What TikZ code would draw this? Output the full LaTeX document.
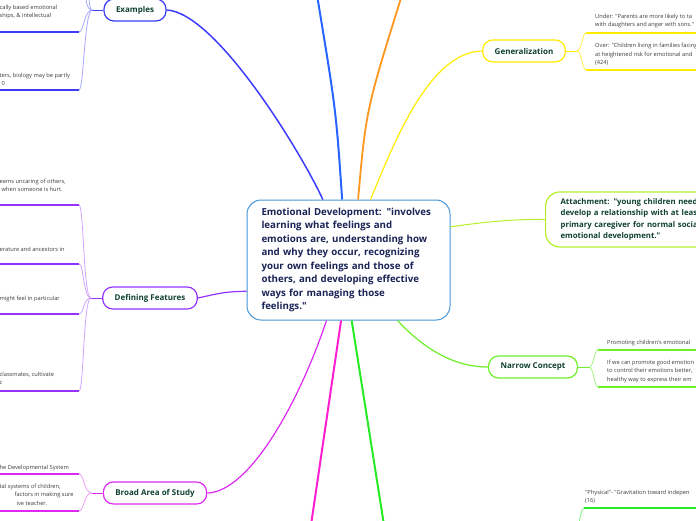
\documentclass[tikz,border=0pt]{standalone}
\usepackage{fontspec}
\setmainfont{Open Sans}[Ligatures=TeXOff]
\usepackage{tikz}
\usetikzlibrary{positioning}
\definecolor{exblue}{RGB}{60,60,250}
\definecolor{topblue}{RGB}{40,100,255}
\definecolor{orangeline}{RGB}{255,150,30}
\definecolor{genyellow}{RGB}{255,235,0}
\definecolor{attgreen}{RGB}{180,240,40}
\definecolor{narrgreen}{RGB}{110,240,40}
\definecolor{downgreen}{RGB}{40,235,40}
\definecolor{downmag}{RGB}{255,30,210}
\definecolor{broadmag}{RGB}{220,40,240}
\definecolor{defviolet}{RGB}{150,50,255}
\definecolor{centreblue}{RGB}{70,150,215}
\definecolor{topictext}{RGB}{15,65,50}
\definecolor{centretext}{RGB}{25,35,85}
\definecolor{itemtext}{RGB}{60,60,60}
\tikzstyle{central} = [draw=centreblue, fill=white, rounded corners=14pt, line width=1pt, text width=174pt, inner xsep=14.5pt, inner ysep=6pt, minimum height=120pt, align=left, font=\fontsize{9.7}{13.5}\selectfont\bfseries, text=centretext]
\tikzstyle{topic} = [draw, fill=white, rounded corners=10pt, line width=1.2pt, inner xsep=12pt, minimum height=22pt, font=\fontsize{8}{10}\selectfont\bfseries, text=topictext]
\tikzstyle{item} = [anchor=north west, inner sep=0pt, align=left, font=\fontsize{5.7}{8.5}\selectfont, text=itemtext]
\tikzstyle{soft} = [line width=0.8pt]
\tikzstyle{under} = [line width=1.8pt]

\begin{document}
\begin{tikzpicture}[x=1pt, y=-1pt]
    \useasboundingbox (0,0) rectangle (696,520);

    % Central topic
    \node [central] (emo) at (348.5,260) {Emotional Development: "involves\\learning what feelings and\\emotions are, understanding how\\and why they occur, recognizing\\your own feelings and those of\\others, and developing effective\\ways for managing those\\feelings."};

    % Main topics
    \node [topic, draw=exblue] (examples) at (135,10) {Examples};
    \node [topic, draw=defviolet] (defin) at (150,298) {Defining Features};
    \node [topic, draw=broadmag] (broad) at (155,493) {Broad Area of Study};
    \node [topic, draw=genyellow] (general) at (524,51) {Generalization};
    \node [topic, draw=narrgreen] (narrow) at (533,367) {Narrow Concept};
    \node [topic, draw=attgreen, anchor=west, align=left, text width=165pt, inner xsep=15pt, minimum height=55pt, rounded corners=14pt, font=\fontsize{7.8}{11.3}\selectfont\bfseries] (attach) at (545,219.5) {Attachment: "young children need\\develop a relationship with at least\\primary caregiver for normal social\\emotional development."};
    \coordinate (upblue) at (317,-5);
    \coordinate (uporange) at (402,-5);
    \coordinate (downgr) at (384,525);
    \coordinate (downmg) at (311,525);

    % Main branches
    \draw [exblue, line width=1.5pt] (emo.113) .. controls (300,150) and (215,12) .. (examples.east);
    \draw [topblue, line width=2pt] (emo.96) .. controls (336,110) .. (upblue);
    \draw [orangeline, line width=1.8pt] (emo.81) .. controls (366,110) .. (uporange);
    \draw [genyellow, line width=1.2pt] (emo.70) .. controls (395,140) and (430,52) .. (general.west);
    \draw [attgreen, line width=1pt] (emo.18) .. controls (490,221) and (520,219) .. (attach.west);
    \draw [narrgreen, line width=1.2pt] (emo.-51) .. controls (425,350) and (455,367) .. (narrow.west);
    \draw [downgreen, line width=2pt] (emo.-87) -- (downgr);
    \draw [downmag, line width=2pt] (emo.-97) -- (downmg);
    \draw [broadmag, line width=1.2pt] (emo.-110) .. controls (300,400) and (250,492) .. (broad.east);
    \draw [defviolet, line width=1.2pt] (emo.197) .. controls (225,292) .. (defin.east);

    % Examples
    \coordinate [left=11pt of examples.west] (exj);
    \coordinate (e0) at (84,-20);
    \coordinate (e1) at (79,32);
    \coordinate (e2) at (79,90);
    \draw [exblue, line width=1pt] (examples.west) -- (exj);
    \draw [soft, exblue!45] (exj) .. controls (85,10) and (86,-5) .. (e0);
    \draw [soft, exblue!45] (exj) .. controls (88,10) and (89,-10) .. (89,-20);
    \draw [soft, exblue!45] (exj) .. controls (84,10) and (84,32) .. (e1);
    \draw [soft, exblue!45] (exj) .. controls (84,10) and (84,90) .. (e2);
    \draw [under, exblue] (e1) -- ++(-90,0);
    \draw [under, exblue] (e2) -- ++(-90,0);
    \node [item] (ex1) at (-0.5,4.5) {cally based emotional\\ships, \& intellectual};
    \node [item] (ex2) at (-0.5,72.5) {ters, biology may be partly\\\hspace*{2pt}0};

    % Defining Features
    \coordinate [left=11pt of defin.west] (defj);
    \coordinate (d1) at (79,205);
    \coordinate (d2) at (79,264);
    \coordinate (d3) at (79,314);
    \coordinate (d4) at (79,391);
    \draw [defviolet, line width=1pt] (defin.west) -- (defj);
    \draw [soft, defviolet!45] (defj) .. controls (83,298) and (84,205) .. (d1);
    \draw [soft, defviolet!45] (defj) .. controls (83,298) and (84,264) .. (d2);
    \draw [soft, defviolet!45] (defj) .. controls (83,298) and (84,314) .. (d3);
    \draw [soft, defviolet!45] (defj) .. controls (83,298) and (84,391) .. (d4);
    \foreach \d in {d1,d2,d3,d4} \draw [under, defviolet] (\d) -- ++(-90,0);
    \node [item] (df1) at (-0.5,178.5) {eems uncaring of others,\\\hspace*{2pt}when someone is hurt.};
    \node [item] (df2) at (-0.5,246.5) {erature and ancestors in};
    \node [item] (df3) at (-0.5,295.5) {might feel in particular};
    \node [item] (df4) at (-0.5,371.5) {classmates, cultivate\\c};

    % Broad Area of Study
    \coordinate [left=11pt of broad.west] (brj);
    \coordinate (b1) at (79,474);
    \coordinate (b2) at (79,511);
    \draw [broadmag, line width=1pt] (broad.west) -- (brj);
    \draw [soft, broadmag!45] (brj) .. controls (84,493) and (84,474) .. (b1);
    \draw [soft, broadmag!45] (brj) .. controls (84,493) and (84,511) .. (b2);
    \draw [under, broadmag] (b1) -- ++(-90,0);
    \draw [under, broadmag] (b2) -- ++(-90,0);
    \node [item] (br1) at (-0.5,464.5) {he Developmental System};
    \node [item] (br2) at (-0.5,483.5) {tal systems of children,\\\hspace*{15pt}factors in making sure\\\hspace*{17pt}ive teacher.};

    % Generalization
    \coordinate [right=11pt of general.east] (genj);
    \coordinate (g1) at (586,33);
    \coordinate (g2) at (586,70);
    \draw [genyellow, line width=1pt] (general.east) -- (genj);
    \draw [soft, genyellow!70] (genj) .. controls (582,51) and (582,33) .. (g1);
    \draw [soft, genyellow!70] (genj) .. controls (582,51) and (582,70) .. (g2);
    \draw [under, genyellow] (g1) -- ++(130,0);
    \draw [under, genyellow] (g2) -- ++(130,0);
    \node [item] (gn1) at (595,13.5) {Under: "Parents are more likely to ta\\with daughters and anger with sons."};
    \node [item] (gn2) at (595,43) {Over: "Children living in families facing\\at heightened risk for emotional and\\(424)};

    % Narrow Concept
    \coordinate [right=11pt of narrow.east] (narj);
    \coordinate (n1) at (598,350);
    \coordinate (n2) at (598,387);
    \draw [narrgreen, line width=1pt] (narrow.east) -- (narj);
    \draw [soft, narrgreen!60] (narj) .. controls (594,367) and (594,350) .. (n1);
    \draw [soft, narrgreen!60] (narj) .. controls (594,367) and (594,387) .. (n2);
    \draw [under, narrgreen] (n1) -- ++(130,0);
    \draw [under, narrgreen] (n2) -- ++(130,0);
    \node [item] (nr1) at (607,339.5) {Promoting children's emotional};
    \node [item] (nr2) at (607,359.5) {If we can promote good emotion\\to control their emotions better,\\healthy way to express their em};

    % Physical
    \coordinate (phj) at (566,560);
    \coordinate (p1) at (584,508);
    \draw [soft, downgreen!60] (phj) .. controls (578,560) and (578,508) .. (p1);
    \draw [under, downgreen] (p1) -- ++(130,0);
    \node [item] (ph1) at (585,489.5) {"Physical"- "Gravitation toward indepen\\(16)};
\end{tikzpicture}
\end{document}
